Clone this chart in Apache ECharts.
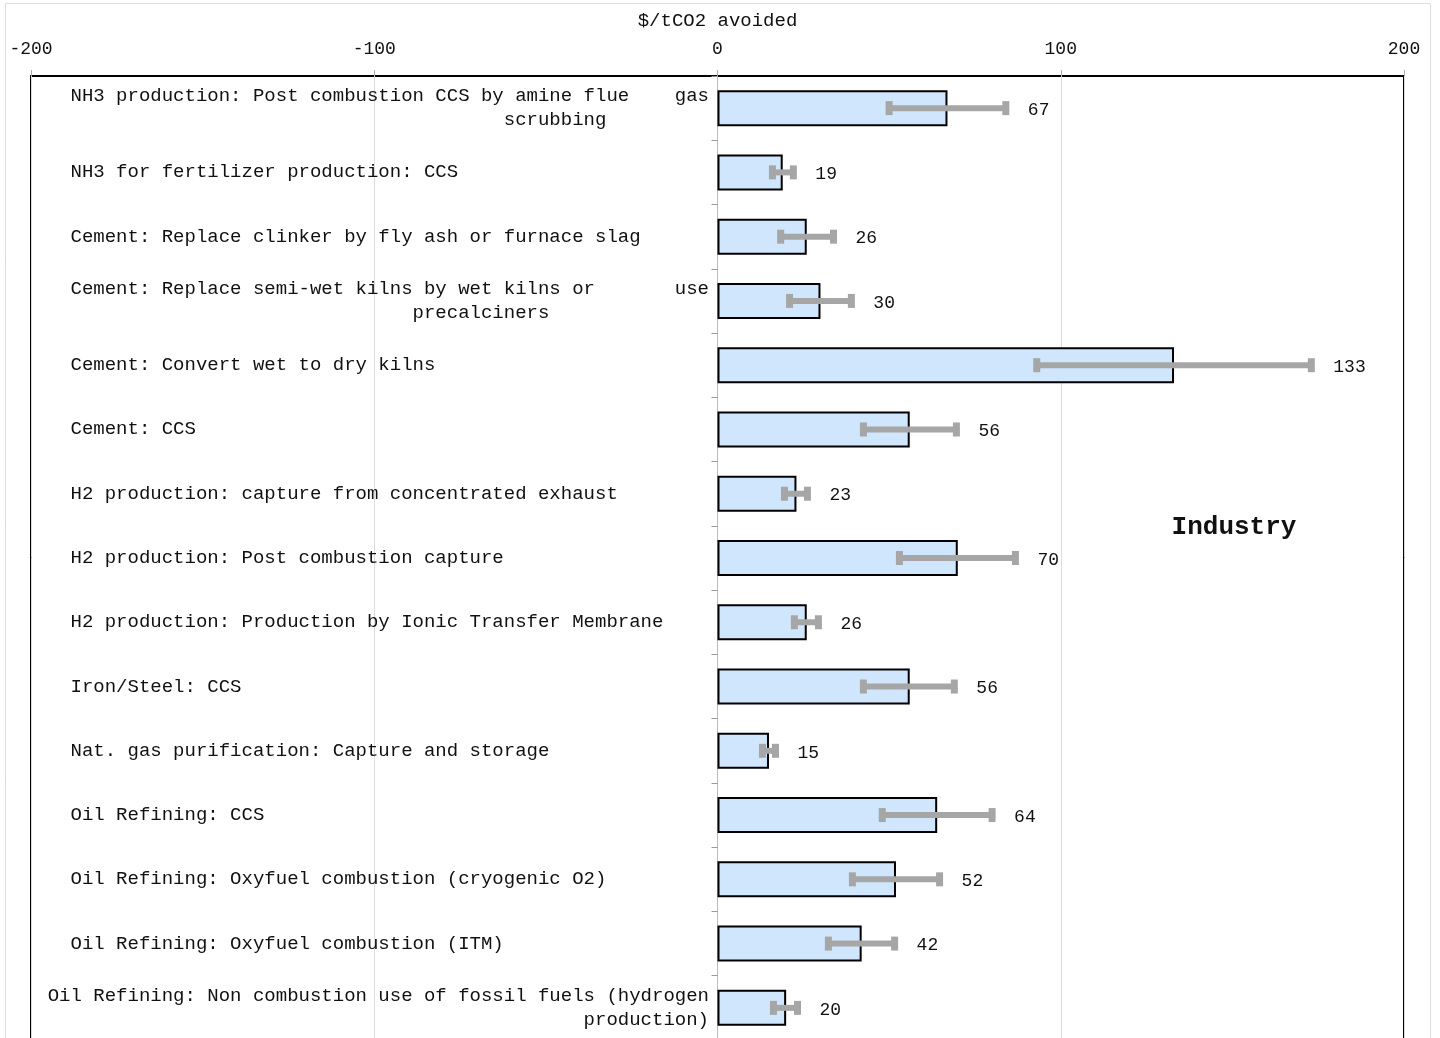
<!DOCTYPE html>
<html>
<head>
<meta charset="utf-8">
<title>Industry: cost of CO2 avoided</title>
<script src="https://cdn.jsdelivr.net/npm/echarts@6/dist/echarts.min.js"></script>
<style>
  html, body { margin: 0; padding: 0; background: #fff; }
  #chart { width: 1440px; height: 1038px; }
</style>
</head>
<body>
<div id="chart"></div>
<script>
// Abatement options (tick labels on the category axis; '\n' breaks long names)
const categories = [
  'NH3 production: Post combustion CCS by amine flue' + ' '.repeat(4) + 'gas\n' + ' '.repeat(38) + 'scrubbing',
  'NH3 for fertilizer production: CCS',
  'Cement: Replace clinker by fly ash or furnace slag',
  'Cement: Replace semi-wet kilns by wet kilns or' + ' '.repeat(7) + 'use\n' + ' '.repeat(30) + 'precalciners',
  'Cement: Convert wet to dry kilns',
  'Cement: CCS',
  'H2 production: capture from concentrated exhaust',
  'H2 production: Post combustion capture',
  'H2 production: Production by Ionic Transfer Membrane',
  'Iron/Steel: CCS',
  'Nat. gas purification: Capture and storage',
  'Oil Refining: CCS',
  'Oil Refining: Oxyfuel combustion (cryogenic O2)',
  'Oil Refining: Oxyfuel combustion (ITM)',
  'Oil Refining: Non combustion use of fossil fuels (hydrogen\n' + ' '.repeat(47) + 'production)'
];

// Central estimate, $/tCO2 avoided
const costs = [67, 19, 26, 30, 133, 56, 23, 70, 26, 56, 15, 64, 52, 42, 20];
// Uncertainty range (low / high), $/tCO2 avoided
const costLow  = [50, 16, 18.4, 21, 93, 42.5, 19.5, 53, 22.4, 42.5, 13.1, 48, 39.3, 32.3, 16.3];
const costHigh = [84, 22.1, 33.8, 39, 173, 69.6, 26.2, 86.8, 29.4, 69, 16.9, 80, 64.7, 51.6, 23.3];

// Value axis range and step
const axisMin = -200;
const axisMax = 200;
const axisStep = 100;

const MONO = '"Liberation Mono", "DejaVu Sans Mono", monospace';
const LABEL_COLS = 56;

const chart = echarts.init(document.getElementById('chart'), null, { renderer: 'canvas' });

const rangeData = costs.map((v, i) => [i, costLow[i], costHigh[i], v]);

chart.setOption({
  backgroundColor: '#ffffff',
  animation: false,
  grid: {
    left: 31,
    right: 36,
    top: 76,
    height: 964,
    show: true,
    borderColor: '#000',
    borderWidth: 2,
    backgroundColor: 'transparent',
    containLabel: false,
    outerBoundsMode: 'none'
  },
  xAxis: {
    type: 'value',
    position: 'top',
    min: axisMin,
    max: axisMax,
    interval: axisStep,
    name: '$/tCO2 avoided',
    nameLocation: 'middle',
    nameGap: 46,
    nameTextStyle: { fontFamily: MONO, fontSize: 19, color: '#111' },
    axisLine: { show: false },
    axisTick: { show: true, length: 6, lineStyle: { color: '#aaa', width: 1 } },
    axisLabel: { fontFamily: MONO, fontSize: 18, color: '#111', margin: 18 },
    splitLine: { show: true, lineStyle: { color: '#dcdcdc', width: 1 } }
  },
  yAxis: {
    type: 'category',
    data: categories,
    inverse: true,
    axisLine: { show: true, onZero: true, lineStyle: { color: '#bbb', width: 1 } },
    axisTick: { show: true, length: 6, lineStyle: { color: '#999', width: 1 } },
    splitLine: { show: false },
    axisLabel: {
      interval: 0,
      // labels end just left of the zero line
      margin: -678,
      align: 'right',
      padding: [4, 0, 0, 0],
      fontFamily: MONO,
      fontSize: 19,
      lineHeight: 24,
      color: '#111',
      formatter: (s) => s.split('\n').map(l => l.padEnd(LABEL_COLS, ' ')).join('\n')
    }
  },
  series: [
    {
      type: 'bar',
      data: costs,
      barWidth: 36,
      itemStyle: { color: '#cfe6fc', borderColor: '#000', borderWidth: 2 },
      silent: true,
      z: 2
    },
    {
      type: 'custom',
      data: rangeData,
      encode: { x: [1, 2], y: 0 },
      clip: false,
      z: 3,
      renderItem: (params, api) => {
        const idx = api.value(0);
        const lo = api.coord([api.value(1), idx]);
        const hi = api.coord([api.value(2), idx]);
        const y = lo[1];
        const grey = '#a6a6a6';
        return {
          type: 'group',
          children: [
            { type: 'line', shape: { x1: lo[0], y1: y, x2: hi[0], y2: y },
              style: { stroke: grey, lineWidth: 6 } },
            { type: 'rect', shape: { x: lo[0] - 3.5, y: y - 7, width: 7, height: 14 },
              style: { fill: grey } },
            { type: 'rect', shape: { x: hi[0] - 3.5, y: y - 7, width: 7, height: 14 },
              style: { fill: grey } },
            { type: 'text',
              style: { text: String(api.value(3)), x: hi[0] + 22, y: y + 2,
                       verticalAlign: 'middle', align: 'left',
                       font: '18px ' + MONO, fill: '#111' } }
          ]
        };
      }
    }
  ],
  graphic: [
    { type: 'rect', silent: true, z: -1,
      shape: { x: 5.5, y: 3.5, width: 1425, height: 1100 },
      style: { fill: 'none', stroke: '#dddddd', lineWidth: 1 } },
    { type: 'text', silent: true,
      style: { text: 'Industry', x: 1234, y: 527, align: 'center', verticalAlign: 'middle',
               font: 'bold 26px ' + MONO, fill: '#111' } }
  ]
});
</script>
</body>
</html>
